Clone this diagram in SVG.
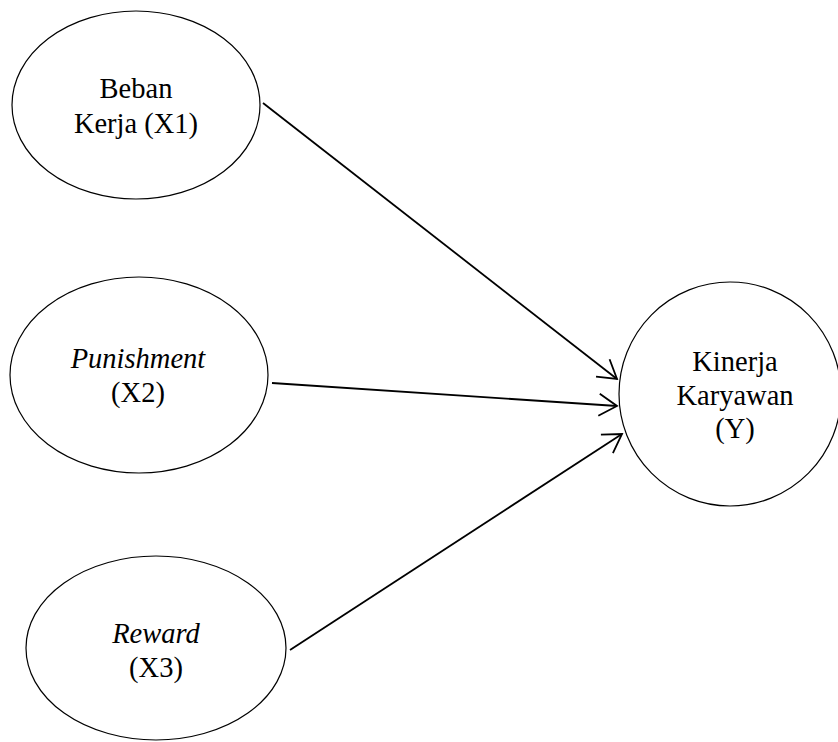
<svg xmlns="http://www.w3.org/2000/svg" width="838" height="742" viewBox="0 0 838 742">
<defs>
<style>
.node ellipse{fill:#fff;stroke:#000;stroke-width:1.2}
.node text{font-family:"Liberation Serif","Times New Roman",serif;font-size:28.5px;fill:#000;text-anchor:middle}
.it{font-style:italic}
.edge{stroke:#000;stroke-width:1.8;fill:none;marker-end:url(#arr)}
</style>
<marker id="arr" markerUnits="userSpaceOnUse" viewBox="-25 -15 30 30" refX="0" refY="0" markerWidth="30" markerHeight="30" orient="auto" overflow="visible">
<path d="M-18,-11 L0,0 L-18,11" fill="none" stroke="#000" stroke-width="1.8"/>
</marker>
</defs>
<rect width="838" height="742" fill="#fff"/>
<g id="x1" class="node">
<ellipse cx="136" cy="105" rx="124" ry="94"/>
<text x="136" y="98">Beban</text>
<text x="136" y="133">Kerja (X1)</text>
</g>
<g id="x2" class="node">
<ellipse cx="139" cy="375" rx="129" ry="98"/>
<text x="138" y="368" class="it">Punishment</text>
<text x="138" y="402">(X2)</text>
</g>
<g id="x3" class="node">
<ellipse cx="156" cy="648" rx="130" ry="92"/>
<text x="156" y="643" class="it">Reward</text>
<text x="156" y="677">(X3)</text>
</g>
<g id="y" class="node">
<ellipse cx="730" cy="394" rx="111" ry="112"/>
<text x="735" y="371">Kinerja</text>
<text x="735" y="405">Karyawan</text>
<text x="735" y="438">(Y)</text>
</g>
<g id="connectors">
<line class="edge" x1="263" y1="103" x2="617" y2="379"/>
<line class="edge" x1="272" y1="383" x2="617" y2="406"/>
<line class="edge" x1="290" y1="650" x2="622" y2="434"/>
</g>
</svg>
